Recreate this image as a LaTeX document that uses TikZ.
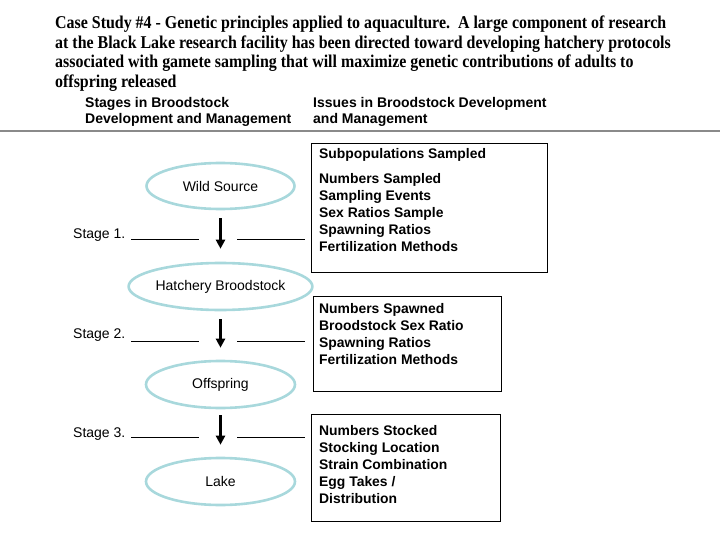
\documentclass[tikz,border=0pt]{standalone}
\usepackage{fontspec}
\setmainfont{Liberation Sans}
\newfontfamily\titlefont[FakeStretch=0.885]{Liberation Serif}
\usetikzlibrary{shapes.geometric,arrows.meta}
\definecolor{ellc}{HTML}{A8D8DC}
\definecolor{rulec}{HTML}{8A8A8A}
\tikzset{
  stagebox/.style={ellipse,draw=ellc,line width=2.6pt,font=\fontsize{14}{16}\selectfont,inner sep=0pt},
  issuebox/.style={draw=black,line width=0.9pt,inner sep=0pt},
  issuetext/.style={anchor=north west,align=left,inner sep=0pt,font=\fontsize{13.9}{17}\selectfont\bfseries},
  flowarrow/.style={-{Triangle[length=9pt,width=9pt]},line width=2.6pt},
  tick/.style={line width=0.8pt},
  titleline/.style={anchor=base west,inner sep=0pt,font=\titlefont\fontsize{18}{20}\selectfont\bfseries},
  headtext/.style={anchor=north west,align=left,inner sep=0pt,font=\fontsize{14}{16}\selectfont\bfseries},
  stagelabel/.style={anchor=base west,inner sep=0pt,font=\fontsize{14}{16}\selectfont}
}
\begin{document}
\begin{tikzpicture}[x=1pt,y=-1pt]
\useasboundingbox (0,0) rectangle (720,540);
% title
\node[titleline] (t1) at (55,28.8) {Case Study \#4 - Genetic principles applied to aquaculture.\ \ A large component of research};
\node[titleline] (t2) at (55,48.4) {at the Black Lake research facility has been directed toward developing hatchery protocols};
\node[titleline] (t3) at (55,68) {associated with gamete sampling that will maximize genetic contributions of adults to};
\node[titleline] (t4) at (55,87.6) {offspring released};
% headers
\node[headtext] (h1) at (85,97) {Stages in Broodstock\\Development and Management};
\node[headtext] (h2) at (313,97) {Issues in Broodstock Development\\and Management};
\draw[rulec,line width=2pt] (0,131.5) coordinate (r1) -- (720,131.5) coordinate (r2);
% ellipses
\node[stagebox,minimum width=148pt,minimum height=46pt] (wild) at (220.5,186) {Wild Source};
\node[stagebox,minimum width=182pt,minimum height=47pt] (hatch) at (220.5,286.5) {Hatchery Broodstock};
\node[stagebox,minimum width=149pt,minimum height=47pt] (off) at (220.5,384.5) {Offspring};
\node[stagebox,minimum width=149pt,minimum height=47pt] (lake) at (220.5,481.5) {Lake};
% arrows
\draw[flowarrow] ([yshift=-8pt]wild.south) -- ([yshift=13pt]hatch.north);
\draw[flowarrow] ([yshift=-8pt]hatch.south) -- ([yshift=12pt]off.north);
\draw[flowarrow] ([yshift=-6pt]off.south) -- ([yshift=12pt]lake.north);
% stage labels
\node[stagelabel] (s1) at (73,239) {Stage 1.};
\node[stagelabel] (s2) at (73,338) {Stage 2.};
\node[stagelabel] (s3) at (73,437) {Stage 3.};
\draw[tick] (131,239.5) coordinate (a1) -- (199,239.5) coordinate (a2);
\draw[tick] (237,239.5) coordinate (a3) -- (305,239.5) coordinate (a4);
\draw[tick] (131,341) coordinate (b1) -- (199,341) coordinate (b2);
\draw[tick] (237,341) coordinate (b3) -- (305,341) coordinate (b4);
\draw[tick] (131,437.5) coordinate (c1) -- (199,437.5) coordinate (c2);
\draw[tick] (237,437.5) coordinate (c3) -- (305,437.5) coordinate (c4);
% boxes
\node[issuebox,minimum width=236pt,minimum height=129pt] (box1) at (429,207.5) {};
\node[issuebox,minimum width=188pt,minimum height=95pt] (box2) at (407,343.5) {};
\node[issuebox,minimum width=189pt,minimum height=107pt] (box3) at (405.5,467.5) {};
\node[issuetext] (bt1a) at (319,148) {Subpopulations Sampled};
\node[issuetext] (bt1b) at (319,173) {Numbers Sampled\\Sampling Events\\Sex Ratios Sample\\Spawning Ratios\\Fertilization Methods};
\node[issuetext] (bt2) at (319,303) {Numbers Spawned\\Broodstock Sex Ratio\\Spawning Ratios\\Fertilization Methods};
\node[issuetext] (bt3) at (319,425) {Numbers Stocked\\Stocking Location\\Strain Combination\\Egg Takes /\\Distribution};
\end{tikzpicture}
\end{document}
